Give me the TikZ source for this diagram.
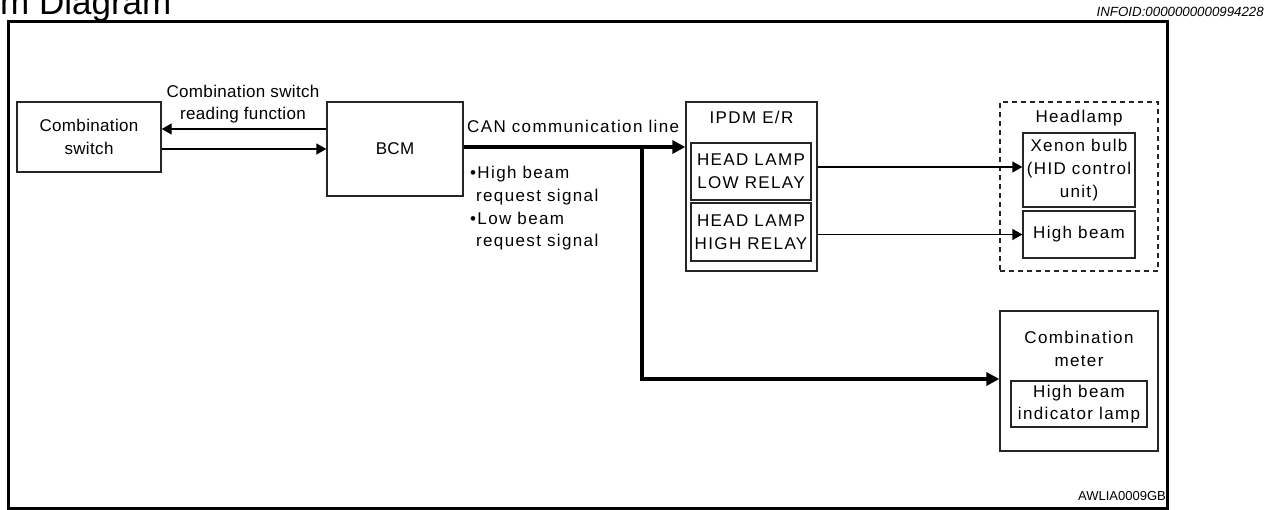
\documentclass[tikz,border=0pt]{standalone}
\usepackage{fontspec}
\setmainfont{Liberation Sans}
\newfontfamily\lsA[LetterSpace=2]{Liberation Sans}
\newfontfamily\lsB[LetterSpace=8]{Liberation Sans}
\usetikzlibrary{arrows.meta}
\begin{document}
\begin{tikzpicture}[x=1pt,y=-1pt,
  txt/.style={font=\lsA\fontsize{17}{22.5}\selectfont, align=center, inner sep=0pt},
  txtb/.style={font=\lsB\fontsize{17}{22.7}\selectfont, align=center, inner sep=0pt},
  box/.style={draw=black!85, line width=1.3pt, inner sep=0pt},
  dbox/.style={draw=black!85, line width=1.3pt, inner sep=0pt, dash pattern=on 5pt off 4pt},
  conn/.style={line width=1.3pt, -{Triangle[length=10pt,width=11pt]}},
  bus/.style={line width=4pt, -{Triangle[length=13pt,width=13pt]}}]
\useasboundingbox (0,0) rectangle (1277,510);
% header and frame
\node[anchor=base west, inner sep=0pt, font=\fontsize{35}{35}\selectfont] (title) at (0,15) {m Diagram};
\node[anchor=base east, inner sep=0pt, font=\fontsize{13.3}{14}\selectfont\itshape] (info) at (1264,17) {INFOID:0000000000994228};
\node[draw, line width=3pt, inner sep=0pt, minimum width=1159pt, minimum height=486pt] (frame) at (587.5,265) {};
\node[anchor=base east, inner sep=0pt, font=\fontsize{13}{14}\selectfont] (code) at (1166,500) {AWLIA0009GB};
% boxes
\node[box, txt, minimum width=144pt, minimum height=70pt] (sw) at (89,137) {Combination\\switch};
\node[box, txt, minimum width=136pt, minimum height=94pt] (bcm) at (395,149) {BCM};
\node[box, minimum width=131pt, minimum height=169pt] (ipdm) at (751.5,186.5) {};
\node[txtb] (ipdmt) at (751.5,117) {IPDM E/R};
\node[box, txtb, minimum width=120pt, minimum height=57pt] (lowr) at (751,171.5) {HEAD LAMP\\LOW RELAY};
\node[box, txtb, minimum width=120pt, minimum height=58pt] (highr) at (751,232) {HEAD LAMP\\HIGH RELAY};
\node[dbox, minimum width=158pt, minimum height=169pt] (head) at (1079,186.5) {};
\node[txtb] (headt) at (1079,118) {Headlamp};
\node[box, txtb, minimum width=112pt, minimum height=74pt] (xenon) at (1079,170) {Xenon bulb\\(HID control\\unit)};
\node[box, txtb, minimum width=112pt, minimum height=47pt] (hbeam) at (1079,234.5) {High beam};
\node[box, minimum width=158pt, minimum height=140pt] (meter) at (1079,381) {};
\node[txtb] (metert) at (1079,349) {Combination\\meter};
\node[box, txtb, minimum width=136pt, minimum height=46pt] (ind) at (1079,404) {High beam\\indicator lamp};
% labels
\node[txt] (lab) at (243,104) {Combination switch\\reading function};
\node[txtb, anchor=base west] (can) at (467,133) {CAN communication line};
\node[txtb, align=left, anchor=west] (sig) at (470,208.5) {•High beam\\\hphantom{•}request signal\\•Low beam\\\hphantom{•}request signal};
% connectors
\path ([yshift=20pt]bcm.west) coordinate (u1);
\draw[conn] (u1) -- (sw.east |- u1);
\draw[conn] (sw.east |- bcm.west) -- (bcm.west);
\path ([yshift=2pt]bcm.east) coordinate (canL);
\draw[bus] (canL) -- (ipdm.west |- canL);
\coordinate (br) at (642,147);
\coordinate (corner) at (642,379);
\draw[bus] (br) -- (corner) -- (meter.west |- corner);
\path ([yshift=3pt]xenon.west) coordinate (xin);
\draw[conn] (ipdm.east |- xin) -- (xin);
\draw[conn] (ipdm.east |- hbeam.west) -- (hbeam.west);
\end{tikzpicture}
\end{document}
